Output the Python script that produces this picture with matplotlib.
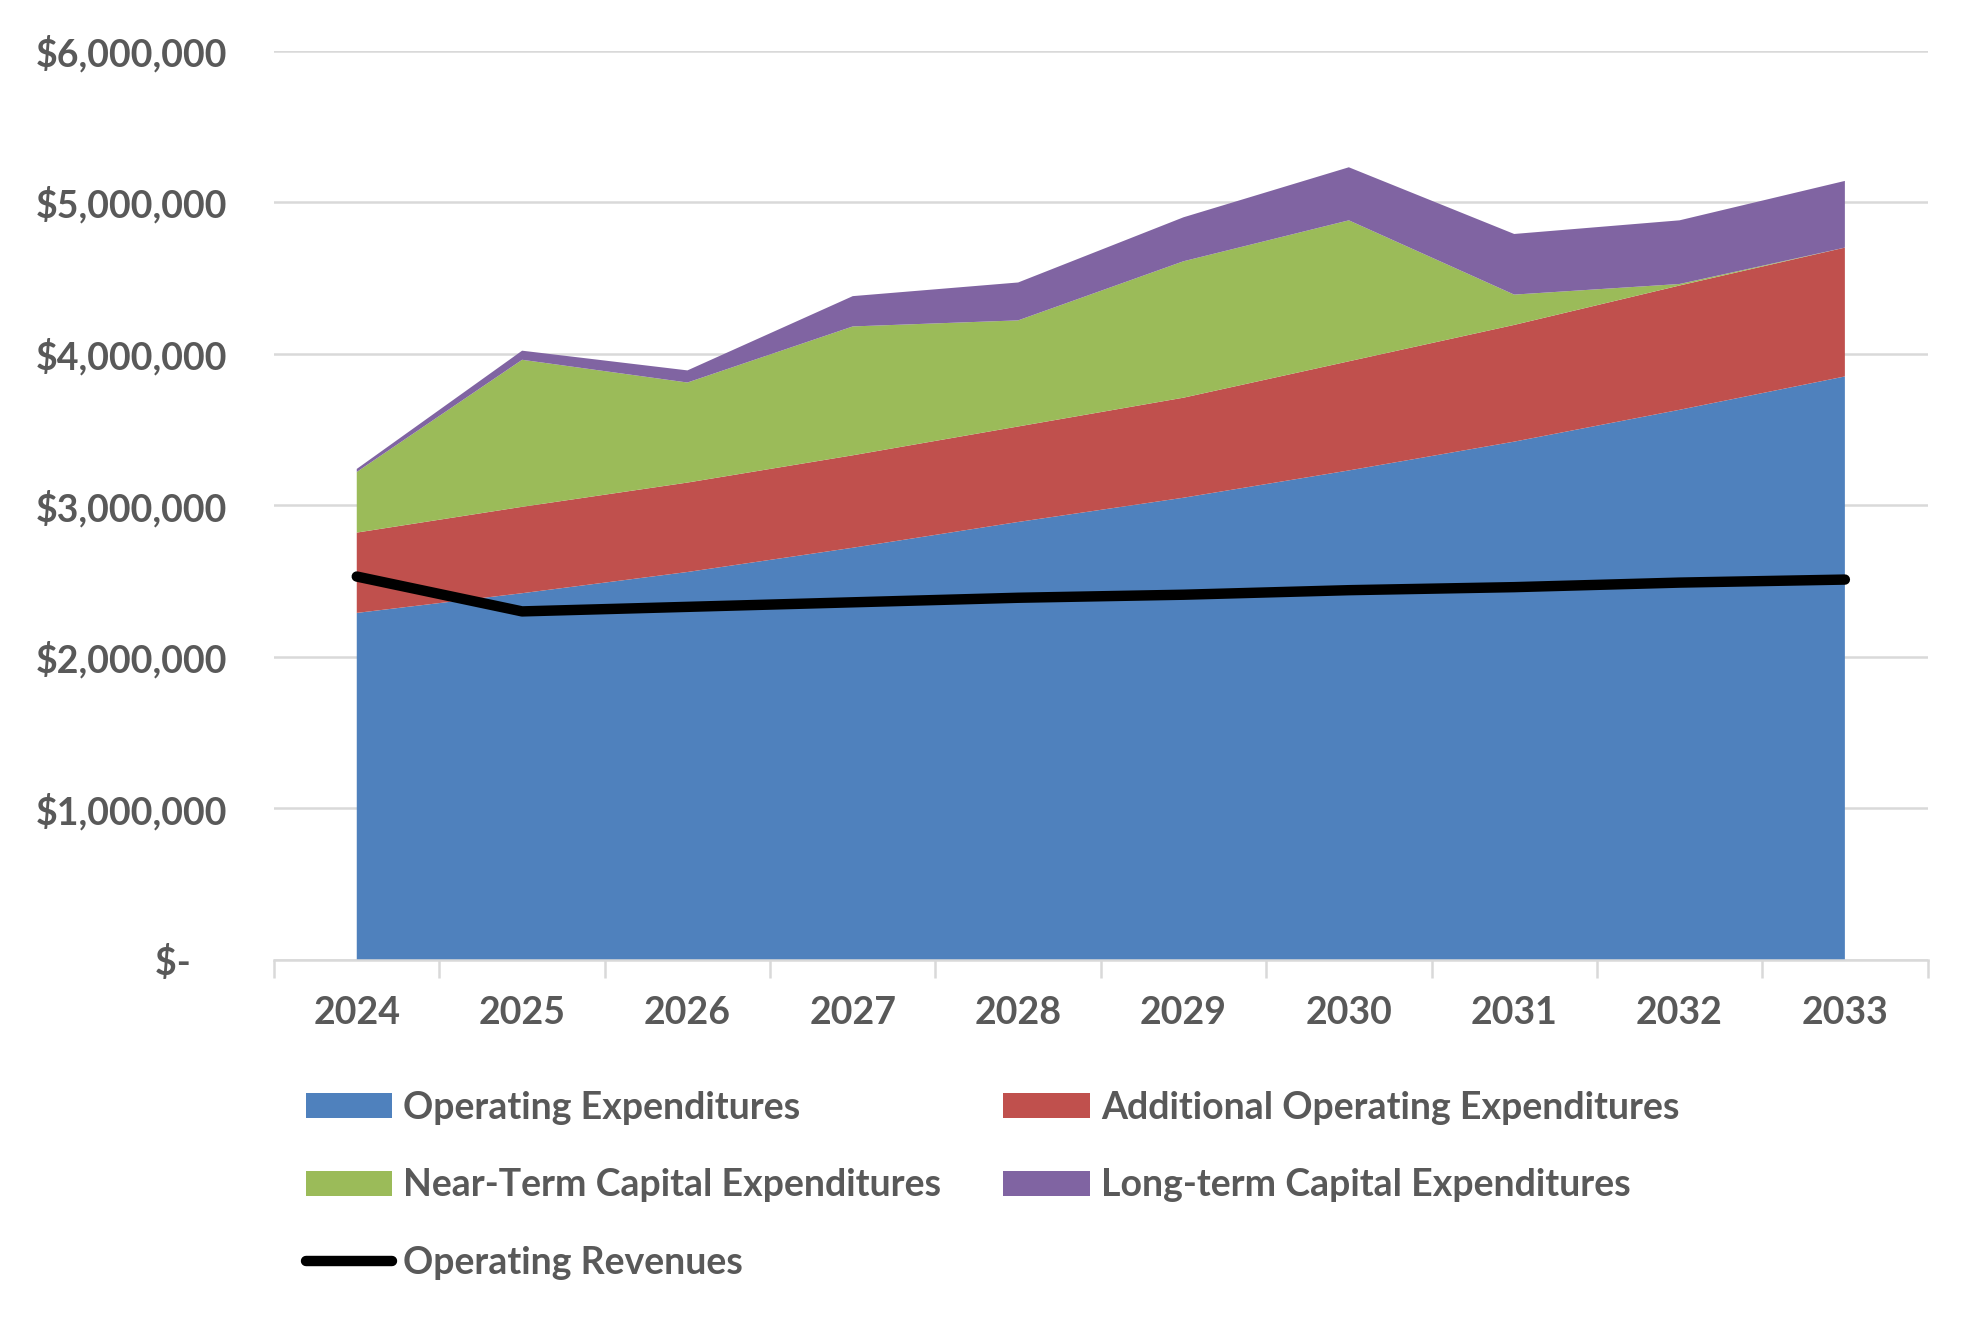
import matplotlib
matplotlib.use("Agg")
import matplotlib.pyplot as plt
from matplotlib import font_manager
from matplotlib.ticker import FuncFormatter, FixedLocator
from matplotlib.patches import Patch
from matplotlib.lines import Line2D
import numpy as np

years = ["2024", "2025", "2026", "2027", "2028", "2029", "2030", "2031", "2032", "2033"]
operating_exp = [2.29, 2.42, 2.56, 2.72, 2.89, 3.05, 3.23, 3.42, 3.63, 3.85]
additional_exp = [0.53, 0.57, 0.59, 0.61, 0.63, 0.66, 0.72, 0.77, 0.82, 0.85]
near_term_cap = [0.40, 0.97, 0.66, 0.85, 0.70, 0.90, 0.93, 0.20, 0.01, 0.00]
long_term_cap = [0.02, 0.06, 0.08, 0.20, 0.25, 0.29, 0.35, 0.40, 0.42, 0.44]
revenues = [2.53, 2.30, 2.33, 2.36, 2.39, 2.41, 2.44, 2.46, 2.49, 2.51]
y_ticks = [0, 1, 2, 3, 4, 5, 6]
series_names = ["Operating Expenditures", "Additional Operating Expenditures",
                "Near-Term Capital Expenditures", "Long-term Capital Expenditures",
                "Operating Revenues"]
colors = ["#4F81BD", "#C0504D", "#9BBB59", "#8064A2"]

names = {f.name for f in font_manager.fontManager.ttflist}
fam = "Lato" if "Lato" in names else "DejaVu Sans"
plt.rcParams["font.family"] = [fam, "DejaVu Sans"]
text_color = "#595959"
fs = 27

M = 1e6
x = np.arange(len(years))
fig = plt.figure(figsize=(19.79, 13.20), dpi=100)
ax = fig.add_axes([0.1385, 0.2727, 0.974 - 0.1385, 0.9617 - 0.2727])

ax.stackplot(x, np.array(operating_exp) * M, np.array(additional_exp) * M,
             np.array(near_term_cap) * M, np.array(long_term_cap) * M,
             colors=colors, linewidth=0, zorder=2)
ax.plot(x, np.array(revenues) * M, color="black", linewidth=7.5,
        solid_capstyle="round", solid_joinstyle="round", zorder=3)

ax.set_xlim(-0.5, len(years) - 0.5)
ax.set_ylim(0, 6 * M)
ax.set_yticks([v * M for v in y_ticks])

def fmt(v, pos):
    if v == 0:
        return "$-    "
    return "${:,.0f}".format(v)
ax.yaxis.set_major_formatter(FuncFormatter(fmt))
ax.grid(axis="y", color="#D9D9D9", linewidth=1.8, zorder=0)
ax.set_axisbelow(True)

ax.set_xticks(x)
ax.set_xticklabels(years)
ax.xaxis.set_minor_locator(FixedLocator(np.arange(-0.5, len(years), 1.0)))
ax.tick_params(axis="x", which="major", length=0, pad=26, labelsize=fs,
               labelcolor=text_color)
ax.tick_params(axis="x", which="minor", length=13, width=1.8, color="#D9D9D9")
ax.tick_params(axis="y", length=0, pad=34, labelsize=fs, labelcolor=text_color)
for lab in ax.get_xticklabels() + ax.get_yticklabels():
    lab.set_fontweight("bold")

for s in ["top", "right", "left"]:
    ax.spines[s].set_visible(False)
ax.spines["bottom"].set_color("#D9D9D9")
ax.spines["bottom"].set_linewidth(1.8)
ax.spines["bottom"].set_zorder(4)

handles = [Patch(facecolor=colors[0], label=series_names[0]),
           Patch(facecolor=colors[2], label=series_names[2]),
           Line2D([0], [0], color="black", linewidth=7.5, solid_capstyle="round",
                  label=series_names[4]),
           Patch(facecolor=colors[1], label=series_names[1]),
           Patch(facecolor=colors[3], label=series_names[3])]
leg = fig.legend(handles=handles, ncol=2, loc="upper left",
                 bbox_to_anchor=(0.147, 0.185), frameon=False,
                 prop={"size": fs, "weight": "bold"},
                 handlelength=2.3, handleheight=0.65, handletextpad=0.3,
                 labelspacing=1.16, columnspacing=1.65, borderaxespad=0)
for t in leg.get_texts():
    t.set_color(text_color)

fig.savefig("out.png", dpi=100)
